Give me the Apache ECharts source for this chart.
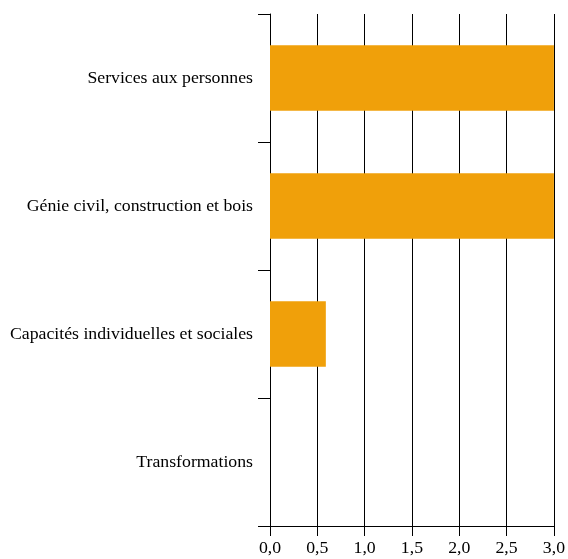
<!DOCTYPE html>
<html>
<head>
<meta charset="utf-8">
<script src="https://cdn.jsdelivr.net/npm/echarts@6/dist/echarts.min.js"></script>
<style>html,body{margin:0;padding:0;background:#fff;}#c{width:568px;height:559px;}</style>
</head>
<body>
<div id="c"></div>
<script>
var categories = ["Transformations", "Capacités individuelles et sociales", "Génie civil, construction et bois", "Services aux personnes"];
var values = [0, 0.59, 3.0, 3.0];
var xTicks = ["0,0", "0,5", "1,0", "1,5", "2,0", "2,5", "3,0"];

var chart = echarts.init(document.getElementById('c'), null, {renderer: 'canvas'});
var font = '"Liberation Serif", "Times New Roman", serif';
chart.setOption({
  animation: false,
  grid: {left: 270, right: 12, top: 14, bottom: 33, containLabel: false},
  xAxis: {
    type: 'value', min: 0, max: 3, interval: 0.5,
    axisLine: {show: true, lineStyle: {color: '#000', width: 1}},
    axisTick: {show: true, length: 10, lineStyle: {color: '#000'}},
    axisLabel: {
      fontFamily: font, fontSize: 17.75, color: '#000', margin: 13,
      formatter: function (v) { return xTicks[Math.round(v / 0.5)]; }
    },
    splitLine: {show: true, lineStyle: {color: '#000', width: 1}}
  },
  yAxis: {
    type: 'category', data: categories,
    axisLine: {show: true, lineStyle: {color: '#000', width: 1}},
    axisTick: {show: true, length: 12, lineStyle: {color: '#000'}},
    axisLabel: {fontFamily: font, fontSize: 17.75, color: '#000', margin: 17, padding: [4, 0, 0, 0]},
    splitLine: {show: false}
  },
  series: [{
    type: 'bar', data: values, barCategoryGap: '49%',
    itemStyle: {color: '#F0A00A'}
  }]
});
</script>
</body>
</html>
